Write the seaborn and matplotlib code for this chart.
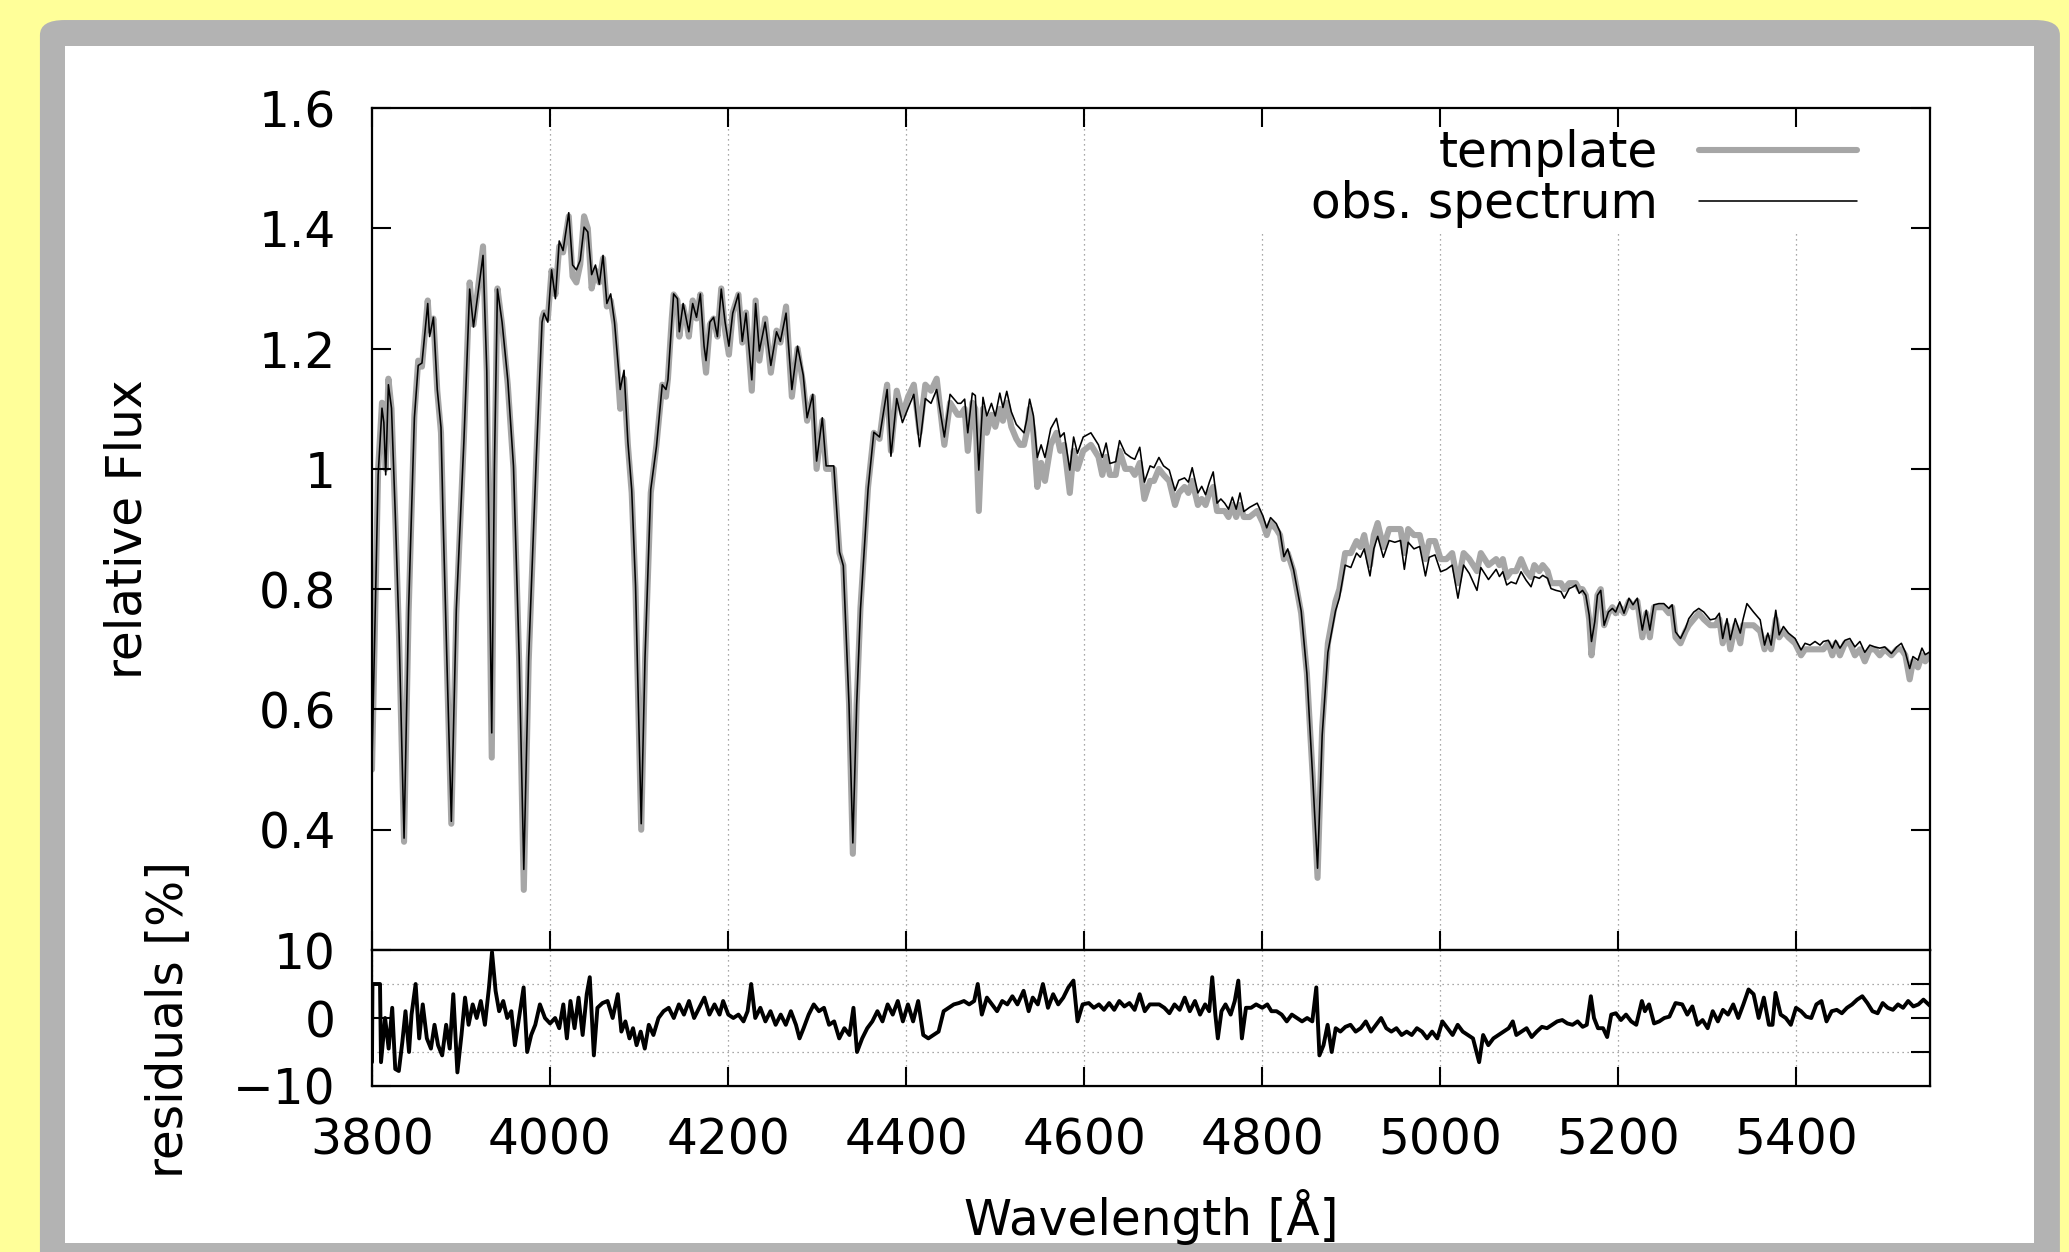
import matplotlib
matplotlib.use("Agg")
import matplotlib.pyplot as plt
from matplotlib.patches import FancyBboxPatch
from matplotlib.ticker import FormatStrFormatter
import seaborn as sns
import pandas as pd

wave = [3800.0, 3806.9, 3811.2, 3813.3, 3815.4, 3818.4, 3821.9, 3826.1, 3830.4, 3836.0,
        3841.1, 3847.6, 3851.9, 3856.1, 3862.6, 3864.7, 3869.0, 3873.3, 3877.5, 3879.7,
        3884.0, 3889.1, 3894.7, 3903.2, 3909.7, 3914.0, 3918.2, 3924.7, 3928.9, 3931.1,
        3934.5, 3937.5, 3940.9, 3946.1, 3952.5, 3958.9, 3965.3, 3970.5, 3976.0, 3984.6,
        3991.0, 3993.2, 3997.5, 4001.7, 4006.0, 4010.3, 4014.6, 4021.0, 4025.3, 4029.6,
        4033.9, 4038.2, 4042.4, 4046.7, 4051.0, 4055.3, 4059.5, 4063.8, 4068.1, 4072.4,
        4078.8, 4083.1, 4087.4, 4091.7, 4096.0, 4102.4, 4106.7, 4113.1, 4119.5, 4126.0,
        4130.2, 4132.4, 4136.7, 4138.8, 4143.1, 4145.2, 4149.5, 4153.8, 4155.9, 4160.2,
        4164.5, 4168.8, 4173.0, 4175.2, 4179.5, 4183.7, 4188.0, 4192.3, 4196.6, 4200.9,
        4205.2, 4211.6, 4215.9, 4220.1, 4226.6, 4230.9, 4235.1, 4241.6, 4248.0, 4254.4,
        4258.7, 4265.1, 4271.6, 4278.0, 4284.4, 4288.7, 4295.1, 4299.4, 4305.8, 4310.1,
        4318.7, 4325.1, 4329.4, 4335.8, 4340.1, 4344.4, 4348.7, 4357.2, 4363.7, 4370.1,
        4374.4, 4378.6, 4382.9, 4389.4, 4395.8, 4402.2, 4408.6, 4415.1, 4421.5, 4427.9,
        4434.3, 4442.9, 4449.3, 4457.9,
        4461.4, 4465.7, 4469.2, 4474.3, 4477.7, 4481.6, 4486.3, 4490.6, 4495.8, 4500.1,
        4505.2, 4508.7, 4513.0, 4518.1, 4523.7, 4528.0, 4532.3, 4535.3, 4538.7, 4543.0,
        4547.3, 4551.6, 4555.9, 4562.4, 4568.8, 4573.1, 4577.4, 4583.8, 4588.1, 4592.4,
        4598.9, 4607.5, 4616.0, 4620.3, 4624.6, 4628.9, 4635.4, 4639.7, 4646.1, 4652.5,
        4656.8, 4662.4, 4667.6, 4674.0, 4678.3, 4683.9, 4689.1, 4695.5, 4702.0, 4706.2,
        4712.7, 4717.0, 4721.3, 4727.7, 4732.0, 4736.3, 4740.6, 4744.9, 4749.2, 4753.5,
        4757.8, 4762.1, 4766.4, 4770.7, 4775.0, 4779.3, 4785.7, 4794.3, 4800.7, 4805.0,
        4809.3, 4815.8, 4820.0, 4824.3, 4828.6, 4835.1, 4843.7, 4850.1, 4856.6, 4862.1,
        4867.3, 4873.7, 4882.3, 4886.6, 4893.1, 4899.5, 4905.9, 4910.2, 4914.5, 4921.0,
        4925.3, 4929.6, 4936.0, 4942.5, 4948.9, 4955.3, 4959.6, 4963.9, 4970.4, 4976.8,
        4983.3, 4987.5, 4994.0, 5000.4, 5006.9, 5013.3, 5019.8, 5026.2, 5032.6, 5041.2,
        5045.5, 5054.1, 5062.7,
        5066.4, 5070.2, 5074.6, 5079.5, 5085.1, 5090.7, 5096.3, 5101.9, 5105.6, 5111.2,
        5115.0, 5120.5, 5124.3, 5129.9, 5135.5, 5139.2, 5144.8, 5149.3, 5152.2, 5156.0,
        5159.7, 5163.4, 5167.2, 5169.8, 5173.5, 5176.5, 5180.2, 5184.0, 5188.8, 5193.3,
        5197.0, 5201.5, 5206.3, 5211.9, 5216.4, 5221.3, 5226.9, 5231.3, 5235.4, 5239.9,
        5245.5, 5251.1, 5256.7, 5260.4, 5264.2, 5269.8, 5275.4, 5279.1, 5284.7, 5290.3,
        5295.9, 5303.3, 5309.0, 5313.4, 5317.2, 5322.0, 5325.7, 5331.3, 5336.9, 5339.9,
        5344.4, 5351.8, 5359.3, 5364.2, 5367.9, 5371.6, 5376.8, 5380.6, 5385.4, 5391.0,
        5398.5, 5405.2, 5409.7, 5415.3, 5420.9, 5426.5, 5430.2, 5435.8, 5440.3, 5444.0,
        5448.9, 5454.5, 5460.0, 5465.7, 5471.3, 5476.8, 5482.4, 5488.0, 5493.6, 5499.2,
        5506.7, 5512.7, 5517.9, 5522.4, 5527.2, 5530.9, 5536.5, 5541.0, 5544.7, 5550.0]

obs_flux = [0.513, 0.990, 1.101, 1.077, 0.990, 1.140, 1.101, 0.926, 0.728, 0.386,
            0.767, 1.085, 1.172, 1.176, 1.275, 1.220, 1.252, 1.132, 1.069, 0.926,
            0.688, 0.414, 0.767, 1.045, 1.299, 1.236, 1.283, 1.355, 1.164, 0.926,
            0.561, 1.005, 1.299, 1.244, 1.148, 1.005, 0.688, 0.334, 0.688, 1.021,
            1.244, 1.259, 1.244, 1.331, 1.283, 1.379, 1.363, 1.426, 1.339, 1.331,
            1.347, 1.402, 1.394, 1.323, 1.339, 1.307, 1.355, 1.275, 1.291, 1.244,
            1.132, 1.164, 1.045, 0.966, 0.807, 0.410, 0.688, 0.966, 1.037, 1.140,
            1.132, 1.148, 1.244, 1.291, 1.283, 1.228, 1.275, 1.244, 1.228, 1.275,
            1.252, 1.291, 1.204, 1.180, 1.244, 1.252, 1.220, 1.299, 1.244, 1.204,
            1.259, 1.291, 1.212, 1.259, 1.148, 1.275, 1.196, 1.244, 1.172, 1.228,
            1.212, 1.259, 1.132, 1.204, 1.156, 1.085, 1.124, 1.013, 1.085, 1.005,
            1.005, 0.862, 0.839, 0.608, 0.378, 0.608, 0.767, 0.966, 1.061, 1.053,
            1.093, 1.132, 1.021, 1.117, 1.077, 1.101, 1.124, 1.037, 1.117, 1.109,
            1.132, 1.053, 1.124, 1.109,
            1.109, 1.116, 1.060, 1.126, 1.122, 0.998, 1.119, 1.088, 1.109, 1.088,
            1.126, 1.102, 1.129, 1.095, 1.074, 1.067, 1.060, 1.081, 1.116, 1.088,
            1.019, 1.040, 1.019, 1.067, 1.084, 1.053, 1.060, 0.998, 1.053, 1.026,
            1.053, 1.060, 1.040, 1.019, 1.043, 1.009, 1.012, 1.047, 1.026, 1.019,
            1.016, 1.036, 0.978, 1.005, 1.002, 1.019, 1.005, 0.998, 0.964, 0.981,
            0.985, 0.978, 1.002, 0.960, 0.971, 0.957, 0.978, 0.995, 0.943, 0.950,
            0.943, 0.933, 0.953, 0.933, 0.960, 0.929, 0.936, 0.943, 0.922, 0.902,
            0.919, 0.909, 0.895, 0.854, 0.867, 0.833, 0.764, 0.660, 0.488, 0.336,
            0.557, 0.695, 0.764, 0.785, 0.840, 0.836, 0.860, 0.853, 0.867, 0.822,
            0.867, 0.888, 0.853, 0.881, 0.878, 0.881, 0.833, 0.878, 0.867, 0.871,
            0.822, 0.853, 0.857, 0.829, 0.833, 0.840, 0.785, 0.840, 0.826, 0.798,
            0.836, 0.816, 0.833,
            0.821, 0.829, 0.807, 0.812, 0.809, 0.829, 0.815, 0.804, 0.821, 0.818,
            0.823, 0.818, 0.801, 0.798, 0.796, 0.785, 0.801, 0.804, 0.807, 0.793,
            0.798, 0.790, 0.757, 0.713, 0.746, 0.790, 0.798, 0.740, 0.762, 0.768,
            0.762, 0.779, 0.760, 0.785, 0.774, 0.785, 0.732, 0.765, 0.732, 0.774,
            0.776, 0.776, 0.768, 0.774, 0.729, 0.718, 0.735, 0.751, 0.762, 0.768,
            0.762, 0.749, 0.751, 0.760, 0.718, 0.751, 0.716, 0.751, 0.727, 0.749,
            0.776, 0.762, 0.749, 0.707, 0.727, 0.707, 0.765, 0.724, 0.738, 0.727,
            0.718, 0.699, 0.710, 0.707, 0.713, 0.707, 0.713, 0.715, 0.702, 0.715,
            0.702, 0.715, 0.718, 0.704, 0.713, 0.695, 0.707, 0.704, 0.702, 0.704,
            0.693, 0.704, 0.710, 0.695, 0.668, 0.688, 0.682, 0.702, 0.691, 0.696]

tmpl_flux = [0.50, 1.00, 1.11, 1.09, 1.00, 1.15, 1.10, 0.92, 0.72, 0.38,
             0.76, 1.09, 1.18, 1.17, 1.28, 1.23, 1.25, 1.13, 1.06, 0.93,
             0.68, 0.41, 0.76, 1.05, 1.31, 1.24, 1.29, 1.37, 1.16, 0.91,
             0.52, 0.99, 1.30, 1.24, 1.14, 1.00, 0.68, 0.30, 0.68, 1.02,
             1.25, 1.26, 1.25, 1.33, 1.29, 1.37, 1.36, 1.42, 1.32, 1.31,
             1.34, 1.42, 1.40, 1.30, 1.33, 1.31, 1.35, 1.27, 1.28, 1.24,
             1.10, 1.15, 1.04, 0.96, 0.80, 0.40, 0.68, 0.96, 1.04, 1.14,
             1.12, 1.15, 1.25, 1.29, 1.28, 1.22, 1.27, 1.24, 1.22, 1.28,
             1.25, 1.29, 1.19, 1.16, 1.24, 1.25, 1.22, 1.30, 1.23, 1.19,
             1.26, 1.29, 1.21, 1.26, 1.13, 1.28, 1.18, 1.25, 1.16, 1.23,
             1.21, 1.27, 1.12, 1.20, 1.14, 1.08, 1.12, 1.00, 1.08, 1.00,
             1.00, 0.86, 0.84, 0.61, 0.36, 0.61, 0.77, 0.97, 1.06, 1.05,
             1.10, 1.14, 1.03, 1.13, 1.09, 1.12, 1.14, 1.06, 1.14, 1.13,
             1.15, 1.04, 1.11, 1.09,
             1.09, 1.10, 1.03, 1.11, 1.10, 0.93, 1.10, 1.06, 1.09, 1.07,
             1.10, 1.08, 1.11, 1.07, 1.05, 1.04, 1.04, 1.06, 1.10, 1.06,
             0.97, 1.01, 0.98, 1.04, 1.06, 1.03, 1.04, 0.96, 1.03, 1.00,
             1.03, 1.04, 1.02, 0.99, 1.02, 0.99, 0.99, 1.03, 1.00, 1.00,
             0.99, 1.01, 0.95, 0.98, 0.98, 1.00, 0.99, 0.98, 0.94, 0.96,
             0.97, 0.96, 0.98, 0.94, 0.95, 0.94, 0.96, 0.97, 0.93, 0.93,
             0.93, 0.92, 0.94, 0.92, 0.94, 0.92, 0.92, 0.93, 0.91, 0.89,
             0.91, 0.90, 0.89, 0.85, 0.86, 0.83, 0.76, 0.66, 0.49, 0.32,
             0.57, 0.71, 0.78, 0.80, 0.86, 0.86, 0.88, 0.87, 0.89, 0.84,
             0.89, 0.91, 0.87, 0.90, 0.90, 0.90, 0.86, 0.90, 0.89, 0.89,
             0.85, 0.88, 0.88, 0.85, 0.85, 0.86, 0.81, 0.86, 0.85, 0.83,
             0.86, 0.84, 0.85,
             0.84, 0.85, 0.82, 0.83, 0.83, 0.85, 0.83, 0.82, 0.84, 0.83,
             0.84, 0.83, 0.81, 0.81, 0.81, 0.80, 0.81, 0.81, 0.81, 0.80,
             0.80, 0.79, 0.75, 0.69, 0.74, 0.79, 0.80, 0.74, 0.76, 0.77,
             0.76, 0.77, 0.76, 0.78, 0.77, 0.78, 0.72, 0.76, 0.72, 0.77,
             0.77, 0.77, 0.76, 0.77, 0.72, 0.71, 0.73, 0.74, 0.75, 0.76,
             0.75, 0.74, 0.74, 0.75, 0.71, 0.74, 0.70, 0.74, 0.71, 0.74,
             0.74, 0.74, 0.73, 0.70, 0.72, 0.70, 0.75, 0.72, 0.73, 0.72,
             0.71, 0.69, 0.70, 0.70, 0.70, 0.70, 0.70, 0.71, 0.69, 0.71,
             0.69, 0.71, 0.71, 0.69, 0.70, 0.68, 0.70, 0.70, 0.69, 0.70,
             0.69, 0.70, 0.70, 0.69, 0.65, 0.68, 0.67, 0.69, 0.68, 0.69]

# residuals [%]
res_wave = [3800.0, 3800.5, 3809.0, 3810.1, 3814.7, 3818.7, 3822.7, 3826.1, 3830.1, 3834.1,
            3837.6, 3841.6, 3844.4, 3849.0, 3853.0, 3857.0, 3861.6, 3866.2, 3870.2, 3874.2,
            3878.8, 3883.3, 3887.3, 3891.3, 3895.9, 3900.5, 3904.5, 3908.5, 3913.1, 3917.6,
            3922.2, 3926.8, 3931.4, 3934.8, 3938.8, 3942.8, 3947.4, 3951.9, 3956.5, 3960.5,
            3965.7, 3970.3, 3974.3, 3978.8, 3983.4, 3988.6, 3994.3, 4000.0, 4005.7, 4010.3,
            4014.9, 4018.9, 4022.9, 4027.5, 4032.0, 4036.6, 4041.2, 4044.6, 4049.2, 4053.2,
            4058.9, 4064.6, 4070.3, 4076.1, 4080.1, 4084.6, 4089.2, 4093.2, 4097.2, 4101.8,
            4106.4, 4110.9, 4116.1, 4121.8, 4127.5, 4133.3, 4139.0, 4144.7, 4150.4, 4156.1,
            4161.8, 4167.6, 4173.3, 4179.0, 4184.7, 4190.4, 4194.4, 4200.2, 4205.9, 4211.6,
            4217.3, 4221.9, 4225.9, 4230.5, 4236.2, 4241.9, 4247.6, 4253.4, 4259.1, 4264.8,
            4270.5, 4276.2, 4280.2, 4284.8, 4290.5, 4296.2, 4302.0, 4307.7, 4313.4, 4319.1,
            4324.8, 4330.6, 4336.3, 4340.8, 4344.8, 4350.6, 4356.3, 4362.0, 4367.7, 4373.4,
            4379.2, 4384.9, 4390.6, 4396.3, 4402.0, 4407.8, 4413.5, 4419.2, 4424.9, 4430.6,
            4436.4, 4442.1, 4447.8, 4453.5, 4459.2, 4464.9, 4470.7, 4476.4, 4480.4, 4485.0,
            4490.7, 4496.4, 4502.1, 4507.9, 4513.6, 4519.3, 4525.0, 4531.9, 4537.6, 4542.2,
            4547.9, 4553.6, 4559.3, 4565.1, 4570.8, 4576.5, 4582.2, 4587.9, 4592.5, 4598.2,
            4605.1, 4610.8, 4616.5, 4622.2, 4628.0, 4633.7, 4639.4, 4645.1, 4650.8, 4656.6,
            4662.3, 4668.0, 4673.7, 4684.2, 4690.0, 4695.7, 4701.4, 4707.2, 4712.9, 4718.6,
            4724.4, 4730.1, 4735.8, 4740.4, 4743.8, 4747.3, 4750.1, 4754.2, 4758.7, 4764.5,
            4769.1, 4773.1, 4777.1, 4781.7, 4787.4, 4793.1, 4800.0, 4805.7, 4810.3, 4816.0,
            4821.8, 4827.5, 4833.2, 4839.0, 4844.7, 4850.4, 4856.2, 4860.7, 4864.2, 4868.8,
            4873.4, 4878.0, 4882.5, 4887.7, 4893.4, 4899.1, 4904.9, 4910.6, 4916.3, 4922.1,
            4927.8, 4933.5, 4939.3, 4945.0, 4950.7, 4956.5, 4962.2, 4967.9, 4973.7, 4979.4,
            4985.1, 4990.8, 4996.6, 5002.3, 5008.0, 5013.8, 5019.5, 5025.2, 5031.0, 5036.7,
            5043.6, 5048.1, 5053.9, 5059.6, 5065.3, 5071.1, 5076.8, 5081.4, 5085.4, 5091.1,
            5096.9, 5102.6, 5108.3, 5114.1, 5119.8, 5125.5, 5131.3, 5137.0, 5142.7, 5148.5,
            5154.2, 5159.9, 5164.5, 5169.1, 5172.6, 5177.1, 5182.8, 5187.4, 5192.0, 5197.2,
            5202.9, 5208.6, 5214.4, 5220.1, 5226.4, 5229.8, 5234.4, 5240.1, 5245.9, 5251.6,
            5257.3, 5264.2, 5271.7, 5277.4, 5283.1, 5288.9, 5294.6, 5300.3, 5306.0, 5311.8,
            5317.5, 5323.2, 5329.0, 5334.7, 5340.4, 5346.2, 5351.9, 5357.6, 5363.4, 5369.1,
            5373.1, 5376.5, 5382.3, 5388.0, 5393.7, 5399.5, 5405.2, 5410.9, 5416.7, 5422.4,
            5428.1, 5433.8, 5439.6, 5445.3, 5451.0, 5456.8, 5462.5, 5468.2, 5474.0, 5479.7,
            5485.4, 5491.2, 5496.9, 5502.6, 5508.4, 5514.1, 5519.8, 5525.5, 5531.3, 5537.0,
            5542.7, 5550.0]

res_pct = [-6.5, 5.0, 5.0, -6.5, 0.0, -4.5, 1.5, -7.5, -7.8, -3.5,
           1.0, -5.0, 0.5, 5.0, -3.0, 2.0, -3.0, -4.5, -1.0, -4.0,
           -5.5, -1.0, -4.5, 3.5, -8.0, -2.5, 3.0, -1.0, 2.0, 0.0,
           2.5, -1.0, 4.5, 9.7, 4.0, 1.0, 2.5, 0.0, 1.0, -4.0,
           0.5, 4.5, -5.0, -2.5, -1.0, 2.0, 0.0, -0.8, 0.0, -1.5,
           2.0, -3.0, 2.5, -1.5, 3.0, -2.5, 3.5, 6.0, -5.5, 1.5,
           2.2, 2.5, 0.0, 3.5, -2.0, -0.5, -3.0, -1.5, -4.0, -2.0,
           -4.5, -1.0, -2.5, 0.0, 1.0, 1.5, 0.0, 2.0, 0.5, 2.5,
           0.0, 1.5, 3.0, 0.5, 2.0, 0.5, 2.5, 0.5, 0.0, 0.5,
           -0.5, 1.0, 5.0, 0.0, 1.5, -0.5, 1.0, -1.0, 0.5, -1.0,
           1.0, -1.0, -3.0, -1.5, 0.5, 2.0, 1.0, 1.5, -1.0, -0.5,
           -3.0, -1.5, -2.5, 1.5, -5.0, -3.0, -1.5, -0.5, 1.0, -0.5,
           2.0, 0.5, 2.5, -0.5, 2.0, -0.5, 2.5, -2.5, -3.0, -2.5,
           -2.0, 1.0, 1.5, 2.0, 2.2, 2.5, 2.0, 2.5, 5.0, 0.5,
           3.0, 2.0, 1.0, 2.5, 2.0, 3.2, 2.0, 4.0, 1.0, 3.0,
           2.0, 5.0, 1.5, 3.5, 2.0, 3.0, 4.5, 5.5, -0.5, 2.0,
           2.2, 1.5, 2.0, 1.2, 2.2, 1.2, 2.5, 1.7, 2.2, 1.2,
           3.5, 1.0, 2.0, 2.0, 1.5, 0.7, 2.0, 1.2, 3.0, 1.0,
           2.5, 0.5, 2.0, 1.0, 6.0, 0.5, -3.0, 1.0, 2.0, 0.5,
           2.5, 5.5, -3.0, 1.5, 1.5, 2.0, 1.5, 2.0, 1.0, 1.0,
           0.5, -0.5, 0.5, 0.0, -0.5, 0.0, -0.5, 4.5, -5.5, -4.0,
           -1.0, -5.0, -1.5, -2.0, -1.3, -1.0, -2.0, -1.5, -0.5, -2.0,
           -1.0, 0.0, -1.5, -2.0, -1.5, -2.5, -2.0, -2.5, -1.5, -2.0,
           -3.0, -2.0, -3.0, -0.5, -1.5, -2.5, -1.0, -2.0, -2.5, -3.0,
           -6.5, -2.5, -4.0, -3.0, -2.5, -2.0, -1.5, -0.5, -2.5, -2.0,
           -1.5, -2.8, -2.0, -1.3, -1.5, -1.0, -0.5, -0.3, -0.8, -1.0,
           -0.5, -1.3, -1.0, 3.2, 0.0, -1.5, -1.5, -2.8, 0.5, 0.7,
           -0.3, 0.5, -0.5, -1.0, 2.5, 1.0, 2.0, -0.8, -0.5, 0.0,
           0.2, 2.2, 2.0, 0.5, 1.7, -1.0, -0.3, -1.5, 1.0, -0.5,
           1.2, 0.5, 2.0, 0.0, 2.0, 4.2, 3.5, 0.0, 3.0, -1.0,
           -1.0, 3.7, 0.5, 0.0, -1.0, 1.5, 1.0, 0.2, 0.0, 2.0,
           2.5, -0.5, 1.0, 1.2, 0.7, 1.5, 2.0, 2.7, 3.2, 2.2,
           1.0, 0.7, 2.2, 1.5, 1.2, 2.0, 1.5, 2.5, 1.7, 2.0,
           2.7, 1.8]

x_ticks = [3800, 4000, 4200, 4400, 4600, 4800, 5000, 5200, 5400]
flux_ticks = [0.4, 0.6, 0.8, 1.0, 1.2, 1.4, 1.6]
res_ticks = [-10, 0, 10]

spec = pd.DataFrame({"wave": wave, "obs": obs_flux, "tmpl": tmpl_flux})
resid = pd.DataFrame({"wave": res_wave, "res": res_pct})

sns.set_style("ticks")
plt.rcParams["font.family"] = ["DejaVu Sans"]
for key in ["text.color", "axes.labelcolor", "xtick.color", "ytick.color", "axes.edgecolor"]:
    plt.rcParams[key] = "black"
FS = 35
GRID = dict(color="#8c8c8c", linestyle=(0, (1, 3)), lw=0.9)

fig = plt.figure(figsize=(20.69, 12.52), dpi=100)
fig.patch.set_facecolor("#ffff99")

# gray frame and white panel behind the plot
fig.add_artist(FancyBboxPatch((0.0193, -0.05), 0.9763, 1.034,
                              boxstyle="round,pad=0,rounding_size=0.012",
                              transform=fig.transFigure, facecolor="#b3b3b3",
                              edgecolor="none", zorder=-10))
fig.add_artist(FancyBboxPatch((0.0314, 0.0072), 0.9517, 0.9561,
                              boxstyle="square,pad=0", transform=fig.transFigure,
                              facecolor="white", edgecolor="none", zorder=-9))

ax = fig.add_axes([0.1798, 0.2412, 0.7530, 0.6725])
axr = fig.add_axes([0.1798, 0.1326, 0.7530, 0.1086])
ax.set_axisbelow(False)

sns.lineplot(data=spec, x="wave", y="tmpl", ax=ax, color="#a6a6a6", lw=4.4,
             estimator=None, sort=False, label="template")
sns.lineplot(data=spec, x="wave", y="obs", ax=ax, color="black", lw=1.15,
             estimator=None, sort=False, label="obs. spectrum")
sns.lineplot(data=resid, x="wave", y="res", ax=axr, color="black", lw=2.8,
             estimator=None, sort=False, legend=False)

# vertical grid; the ones behind the key stop at its lower edge
for xt in x_ticks[1:]:
    ax.vlines(xt, 0.2, 1.6 if xt < 4700 else 1.396, zorder=0.8, **GRID)

for a in (ax, axr):
    a.set_xlim(3800, 5550)
    a.set_xticks(x_ticks)
    a.set_xlabel("")
    a.set_ylabel("")
    for s in a.spines.values():
        s.set_linewidth(1.6)
        s.set_color("black")

ax.set_ylim(0.2, 1.6)
ax.set_yticks(flux_ticks)
ax.yaxis.set_major_formatter(FormatStrFormatter("%g"))
ax.tick_params(direction="in", length=14, width=1.5, top=True, right=True,
               labelbottom=False, labelsize=FS, pad=26)

axr.set_ylim(-10, 10)
axr.set_yticks(res_ticks)
axr.grid(axis="x", **GRID)
axr.axhline(5, zorder=0, **GRID)
axr.axhline(-5, zorder=0, **GRID)
axr.tick_params(direction="in", length=14, width=1.5, top=False, right=False,
                labelsize=FS, pad=26)
axr.tick_params(axis="x", pad=22)
rt = axr.twinx()
rt.set_ylim(-10, 10)
rt.set_yticks([-5, 0, 5])
rt.tick_params(direction="in", length=14, width=1.5, labelright=False)
rt.grid(False)

ax.legend(loc="upper right", bbox_to_anchor=(0.967, 1.0), markerfirst=False,
          frameon=False, fontsize=FS, handlelength=3.25, handletextpad=0.85,
          labelspacing=0.06, borderpad=0.44, borderaxespad=0)

fig.text(128 / 2069, 1 - 529 / 1252, "relative Flux", rotation=90, ha="center",
         va="center", fontsize=FS)
fig.text(169 / 2069, 1 - 1019 / 1252, "residuals [%]", rotation=90, ha="center",
         va="center", fontsize=FS)
fig.text(1151 / 2069, 1 - 1217 / 1252, "Wavelength [Å]", ha="center",
         va="center", fontsize=FS)

fig.savefig("out.png", dpi=100, facecolor=fig.get_facecolor())
